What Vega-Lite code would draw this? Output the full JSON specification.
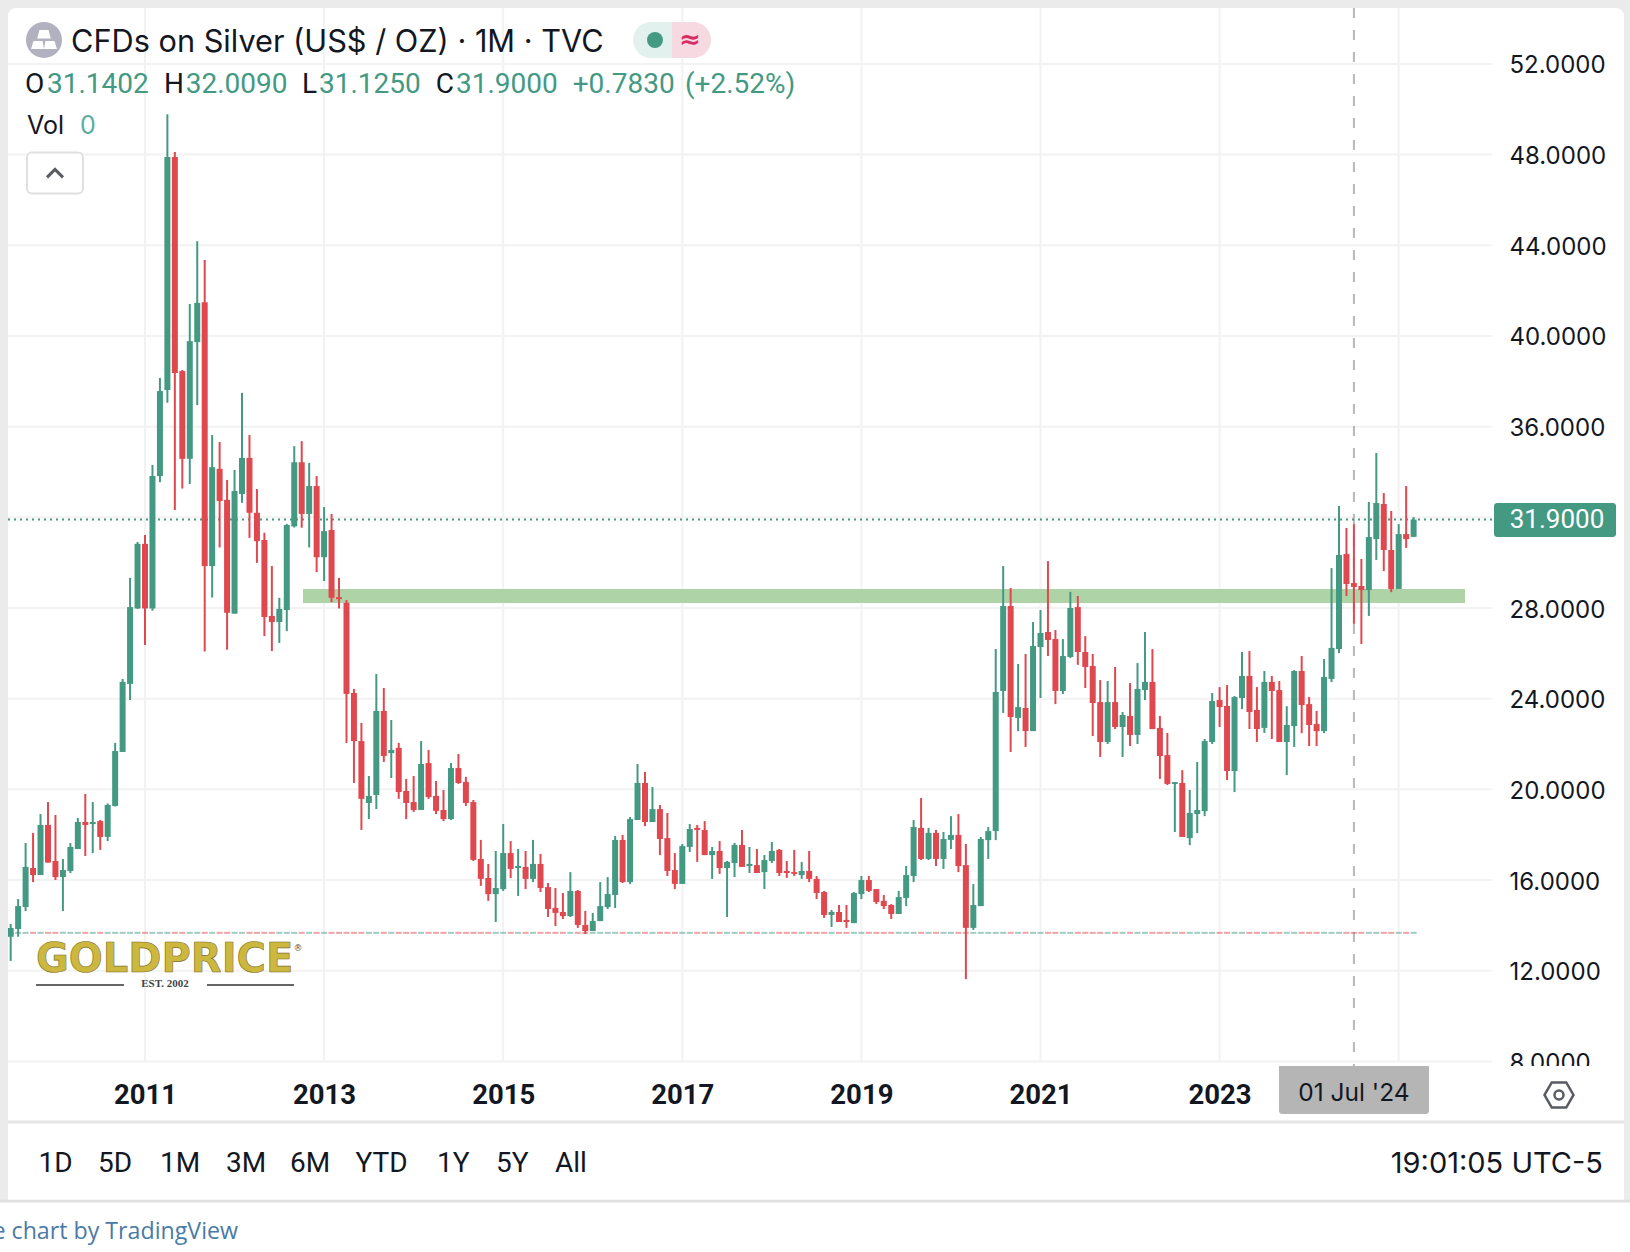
{"$schema":"https://vega.github.io/schema/vega-lite/v6.json","width":1630,"height":1252,"padding":0,"autosize":{"type":"fit","contains":"padding"},"background":"#ffffff","view":{"stroke":null},
"config":{"text":{"font":"Inter","baseline":"middle","align":"left"}},
"datasets":{"candles":[
{"date":"2009-07","t":2009.5,"open":13.5,"high":14.06,"low":12.43,"close":13.88,"dir":"up"},
{"date":"2009-08","t":2009.5833,"open":13.84,"high":15.16,"low":13.5,"close":14.85,"dir":"up"},
{"date":"2009-09","t":2009.6667,"open":14.81,"high":17.63,"low":14.63,"close":16.58,"dir":"up"},
{"date":"2009-10","t":2009.75,"open":16.53,"high":18.08,"low":15.91,"close":16.22,"dir":"down"},
{"date":"2009-11","t":2009.8333,"open":16.22,"high":18.91,"low":16.22,"close":18.43,"dir":"up"},
{"date":"2009-12","t":2009.9167,"open":18.43,"high":19.44,"low":16.77,"close":16.77,"dir":"down"},
{"date":"2010-01","t":2010,"open":16.84,"high":18.87,"low":16.0,"close":16.13,"dir":"down"},
{"date":"2010-02","t":2010.0833,"open":16.13,"high":16.93,"low":14.63,"close":16.44,"dir":"up"},
{"date":"2010-03","t":2010.1667,"open":16.4,"high":17.63,"low":16.31,"close":17.46,"dir":"up"},
{"date":"2010-04","t":2010.25,"open":17.37,"high":18.74,"low":17.37,"close":18.56,"dir":"up"},
{"date":"2010-05","t":2010.3333,"open":18.56,"high":19.8,"low":17.06,"close":18.43,"dir":"down"},
{"date":"2010-06","t":2010.4167,"open":18.47,"high":19.44,"low":17.19,"close":18.56,"dir":"up"},
{"date":"2010-07","t":2010.5,"open":18.6,"high":18.65,"low":17.33,"close":17.9,"dir":"down"},
{"date":"2010-08","t":2010.5833,"open":17.9,"high":19.38,"low":17.72,"close":19.31,"dir":"up"},
{"date":"2010-09","t":2010.6667,"open":19.27,"high":22.05,"low":19.24,"close":21.69,"dir":"up"},
{"date":"2010-10","t":2010.75,"open":21.65,"high":24.87,"low":21.65,"close":24.74,"dir":"up"},
{"date":"2010-11","t":2010.8333,"open":24.65,"high":29.33,"low":23.94,"close":28.04,"dir":"up"},
{"date":"2010-12","t":2010.9167,"open":27.98,"high":30.91,"low":27.96,"close":30.83,"dir":"up"},
{"date":"2011-01","t":2011,"open":30.83,"high":31.22,"low":26.37,"close":27.98,"dir":"down"},
{"date":"2011-02","t":2011.0833,"open":27.98,"high":34.31,"low":27.88,"close":33.82,"dir":"up"},
{"date":"2011-03","t":2011.1667,"open":33.82,"high":38.15,"low":33.55,"close":37.57,"dir":"up"},
{"date":"2011-04","t":2011.25,"open":37.62,"high":49.78,"low":37.05,"close":47.89,"dir":"up"},
{"date":"2011-05","t":2011.3333,"open":47.89,"high":48.11,"low":32.32,"close":38.37,"dir":"down"},
{"date":"2011-06","t":2011.4167,"open":38.45,"high":38.5,"low":33.27,"close":34.58,"dir":"down"},
{"date":"2011-07","t":2011.5,"open":34.58,"high":41.41,"low":33.47,"close":39.77,"dir":"up"},
{"date":"2011-08","t":2011.5833,"open":39.73,"high":44.18,"low":36.95,"close":41.46,"dir":"up"},
{"date":"2011-09","t":2011.6667,"open":41.49,"high":43.35,"low":26.08,"close":29.85,"dir":"down"},
{"date":"2011-10","t":2011.75,"open":29.85,"high":35.63,"low":28.46,"close":34.21,"dir":"up"},
{"date":"2011-11","t":2011.8333,"open":34.14,"high":35.32,"low":30.67,"close":32.72,"dir":"down"},
{"date":"2011-12","t":2011.9167,"open":32.77,"high":33.65,"low":26.16,"close":27.79,"dir":"down"},
{"date":"2012-01","t":2012,"open":27.75,"high":34.09,"low":27.75,"close":33.16,"dir":"up"},
{"date":"2012-02","t":2012.0833,"open":33.03,"high":37.49,"low":32.64,"close":34.62,"dir":"up"},
{"date":"2012-03","t":2012.1667,"open":34.62,"high":35.63,"low":31.09,"close":32.2,"dir":"down"},
{"date":"2012-04","t":2012.25,"open":32.2,"high":33.25,"low":29.99,"close":30.95,"dir":"down"},
{"date":"2012-05","t":2012.3333,"open":31.0,"high":31.32,"low":26.76,"close":27.6,"dir":"down"},
{"date":"2012-06","t":2012.4167,"open":27.65,"high":29.85,"low":26.1,"close":27.38,"dir":"down"},
{"date":"2012-07","t":2012.5,"open":27.38,"high":28.45,"low":26.46,"close":27.96,"dir":"up"},
{"date":"2012-08","t":2012.5833,"open":27.91,"high":31.71,"low":26.98,"close":31.66,"dir":"up"},
{"date":"2012-09","t":2012.6667,"open":31.6,"high":35.14,"low":31.55,"close":34.43,"dir":"up"},
{"date":"2012-10","t":2012.75,"open":34.43,"high":35.36,"low":31.54,"close":32.15,"dir":"down"},
{"date":"2012-11","t":2012.8333,"open":32.15,"high":34.4,"low":30.67,"close":33.38,"dir":"up"},
{"date":"2012-12","t":2012.9167,"open":33.38,"high":33.82,"low":29.58,"close":30.24,"dir":"down"},
{"date":"2013-01","t":2013,"open":30.24,"high":32.45,"low":29.19,"close":31.39,"dir":"up"},
{"date":"2013-02","t":2013.0833,"open":31.44,"high":32.15,"low":28.26,"close":28.45,"dir":"down"},
{"date":"2013-03","t":2013.1667,"open":28.48,"high":29.33,"low":27.98,"close":28.39,"dir":"down"},
{"date":"2013-04","t":2013.25,"open":28.23,"high":28.35,"low":22.05,"close":24.21,"dir":"down"},
{"date":"2013-05","t":2013.3333,"open":24.25,"high":24.43,"low":20.28,"close":22.13,"dir":"down"},
{"date":"2013-06","t":2013.4167,"open":22.13,"high":22.93,"low":18.21,"close":19.58,"dir":"down"},
{"date":"2013-07","t":2013.5,"open":19.4,"high":20.59,"low":18.69,"close":19.71,"dir":"up"},
{"date":"2013-08","t":2013.5833,"open":19.75,"high":25.09,"low":19.13,"close":23.46,"dir":"up"},
{"date":"2013-09","t":2013.6667,"open":23.46,"high":24.47,"low":21.21,"close":21.47,"dir":"down"},
{"date":"2013-10","t":2013.75,"open":21.6,"high":23.06,"low":20.5,"close":21.74,"dir":"up"},
{"date":"2013-11","t":2013.8333,"open":21.83,"high":22.05,"low":19.58,"close":19.88,"dir":"down"},
{"date":"2013-12","t":2013.9167,"open":19.93,"high":20.46,"low":18.69,"close":19.4,"dir":"down"},
{"date":"2014-01","t":2014,"open":19.44,"high":20.59,"low":19.0,"close":19.09,"dir":"down"},
{"date":"2014-02","t":2014.0833,"open":19.09,"high":22.13,"low":19.09,"close":21.12,"dir":"up"},
{"date":"2014-03","t":2014.1667,"open":21.16,"high":21.74,"low":19.58,"close":19.66,"dir":"down"},
{"date":"2014-04","t":2014.25,"open":19.71,"high":20.37,"low":18.91,"close":19.05,"dir":"down"},
{"date":"2014-05","t":2014.3333,"open":19.09,"high":19.97,"low":18.6,"close":18.69,"dir":"down"},
{"date":"2014-06","t":2014.4167,"open":18.69,"high":21.16,"low":18.65,"close":20.94,"dir":"up"},
{"date":"2014-07","t":2014.5,"open":20.94,"high":21.56,"low":20.24,"close":20.28,"dir":"down"},
{"date":"2014-08","t":2014.5833,"open":20.33,"high":20.55,"low":19.27,"close":19.4,"dir":"down"},
{"date":"2014-09","t":2014.6667,"open":19.44,"high":19.53,"low":16.84,"close":16.89,"dir":"down"},
{"date":"2014-10","t":2014.75,"open":16.93,"high":17.77,"low":15.74,"close":16.05,"dir":"down"},
{"date":"2014-11","t":2014.8333,"open":16.09,"high":16.71,"low":15.08,"close":15.38,"dir":"down"},
{"date":"2014-12","t":2014.9167,"open":15.38,"high":17.28,"low":14.15,"close":15.65,"dir":"up"},
{"date":"2015-01","t":2015,"open":15.6,"high":18.47,"low":15.52,"close":17.19,"dir":"up"},
{"date":"2015-02","t":2015.0833,"open":17.19,"high":17.72,"low":16.09,"close":16.49,"dir":"down"},
{"date":"2015-03","t":2015.1667,"open":16.53,"high":17.37,"low":15.3,"close":16.62,"dir":"up"},
{"date":"2015-04","t":2015.25,"open":16.58,"high":17.28,"low":15.6,"close":16.05,"dir":"down"},
{"date":"2015-05","t":2015.3333,"open":16.05,"high":17.77,"low":15.91,"close":16.71,"dir":"up"},
{"date":"2015-06","t":2015.4167,"open":16.71,"high":17.15,"low":15.47,"close":15.65,"dir":"down"},
{"date":"2015-07","t":2015.5,"open":15.69,"high":15.87,"low":14.37,"close":14.72,"dir":"down"},
{"date":"2015-08","t":2015.5833,"open":14.77,"high":15.65,"low":13.97,"close":14.55,"dir":"down"},
{"date":"2015-09","t":2015.6667,"open":14.59,"high":15.43,"low":14.28,"close":14.41,"dir":"down"},
{"date":"2015-10","t":2015.75,"open":14.41,"high":16.35,"low":14.37,"close":15.52,"dir":"up"},
{"date":"2015-11","t":2015.8333,"open":15.52,"high":15.56,"low":13.89,"close":14.02,"dir":"down"},
{"date":"2015-12","t":2015.9167,"open":14.02,"high":14.64,"low":13.62,"close":13.75,"dir":"down"},
{"date":"2016-01","t":2016,"open":13.75,"high":14.55,"low":13.75,"close":14.19,"dir":"up"},
{"date":"2016-02","t":2016.0833,"open":14.19,"high":15.91,"low":14.19,"close":14.85,"dir":"up"},
{"date":"2016-03","t":2016.1667,"open":14.81,"high":16.13,"low":14.72,"close":15.38,"dir":"up"},
{"date":"2016-04","t":2016.25,"open":15.34,"high":17.94,"low":14.77,"close":17.77,"dir":"up"},
{"date":"2016-05","t":2016.3333,"open":17.77,"high":17.99,"low":15.87,"close":15.91,"dir":"down"},
{"date":"2016-06","t":2016.4167,"open":15.91,"high":18.78,"low":15.82,"close":18.69,"dir":"up"},
{"date":"2016-07","t":2016.5,"open":18.65,"high":21.12,"low":18.65,"close":20.28,"dir":"up"},
{"date":"2016-08","t":2016.5833,"open":20.28,"high":20.77,"low":18.38,"close":18.56,"dir":"down"},
{"date":"2016-09","t":2016.6667,"open":18.56,"high":20.1,"low":18.56,"close":19.13,"dir":"up"},
{"date":"2016-10","t":2016.75,"open":19.13,"high":19.31,"low":17.1,"close":17.81,"dir":"down"},
{"date":"2016-11","t":2016.8333,"open":17.85,"high":18.96,"low":16.18,"close":16.4,"dir":"down"},
{"date":"2016-12","t":2016.9167,"open":16.44,"high":17.19,"low":15.6,"close":15.83,"dir":"down"},
{"date":"2017-01","t":2017,"open":15.83,"high":17.59,"low":15.83,"close":17.5,"dir":"up"},
{"date":"2017-02","t":2017.0833,"open":17.46,"high":18.47,"low":17.24,"close":18.25,"dir":"up"},
{"date":"2017-03","t":2017.1667,"open":18.3,"high":18.43,"low":16.8,"close":18.21,"dir":"down"},
{"date":"2017-04","t":2017.25,"open":18.21,"high":18.6,"low":17.1,"close":17.1,"dir":"down"},
{"date":"2017-05","t":2017.3333,"open":17.1,"high":17.46,"low":16.05,"close":17.28,"dir":"up"},
{"date":"2017-06","t":2017.4167,"open":17.28,"high":17.72,"low":16.27,"close":16.53,"dir":"down"},
{"date":"2017-07","t":2017.5,"open":16.53,"high":16.84,"low":14.37,"close":16.8,"dir":"up"},
{"date":"2017-08","t":2017.5833,"open":16.75,"high":17.64,"low":16.13,"close":17.55,"dir":"up"},
{"date":"2017-09","t":2017.6667,"open":17.55,"high":18.21,"low":16.58,"close":16.58,"dir":"down"},
{"date":"2017-10","t":2017.75,"open":16.62,"high":17.46,"low":16.31,"close":16.71,"dir":"up"},
{"date":"2017-11","t":2017.8333,"open":16.66,"high":17.37,"low":16.31,"close":16.31,"dir":"down"},
{"date":"2017-12","t":2017.9167,"open":16.35,"high":17.1,"low":15.6,"close":16.88,"dir":"up"},
{"date":"2018-01","t":2018,"open":16.84,"high":17.68,"low":16.75,"close":17.28,"dir":"up"},
{"date":"2018-02","t":2018.0833,"open":17.33,"high":17.37,"low":16.18,"close":16.31,"dir":"down"},
{"date":"2018-03","t":2018.1667,"open":16.4,"high":16.84,"low":16.09,"close":16.31,"dir":"down"},
{"date":"2018-04","t":2018.25,"open":16.35,"high":17.33,"low":16.18,"close":16.27,"dir":"down"},
{"date":"2018-05","t":2018.3333,"open":16.22,"high":16.8,"low":16.05,"close":16.4,"dir":"up"},
{"date":"2018-06","t":2018.4167,"open":16.4,"high":17.28,"low":15.91,"close":16.05,"dir":"down"},
{"date":"2018-07","t":2018.5,"open":16.05,"high":16.18,"low":15.16,"close":15.43,"dir":"down"},
{"date":"2018-08","t":2018.5833,"open":15.47,"high":15.52,"low":14.33,"close":14.46,"dir":"down"},
{"date":"2018-09","t":2018.6667,"open":14.46,"high":14.68,"low":13.93,"close":14.59,"dir":"up"},
{"date":"2018-10","t":2018.75,"open":14.59,"high":14.9,"low":14.15,"close":14.15,"dir":"down"},
{"date":"2018-11","t":2018.8333,"open":14.24,"high":14.9,"low":13.89,"close":14.15,"dir":"down"},
{"date":"2018-12","t":2018.9167,"open":14.1,"high":15.47,"low":14.1,"close":15.43,"dir":"up"},
{"date":"2019-01","t":2019,"open":15.38,"high":16.18,"low":15.16,"close":16.0,"dir":"up"},
{"date":"2019-02","t":2019.0833,"open":16.0,"high":16.18,"low":15.47,"close":15.52,"dir":"down"},
{"date":"2019-03","t":2019.1667,"open":15.6,"high":15.6,"low":14.94,"close":15.03,"dir":"down"},
{"date":"2019-04","t":2019.25,"open":15.08,"high":15.34,"low":14.72,"close":14.85,"dir":"down"},
{"date":"2019-05","t":2019.3333,"open":14.9,"high":14.94,"low":14.28,"close":14.5,"dir":"down"},
{"date":"2019-06","t":2019.4167,"open":14.5,"high":15.52,"low":14.5,"close":15.25,"dir":"up"},
{"date":"2019-07","t":2019.5,"open":15.21,"high":16.62,"low":14.85,"close":16.22,"dir":"up"},
{"date":"2019-08","t":2019.5833,"open":16.18,"high":18.65,"low":15.91,"close":18.34,"dir":"up"},
{"date":"2019-09","t":2019.6667,"open":18.3,"high":19.62,"low":16.88,"close":16.93,"dir":"down"},
{"date":"2019-10","t":2019.75,"open":16.93,"high":18.3,"low":16.88,"close":18.08,"dir":"up"},
{"date":"2019-11","t":2019.8333,"open":18.08,"high":18.21,"low":16.62,"close":16.93,"dir":"down"},
{"date":"2019-12","t":2019.9167,"open":16.93,"high":18.12,"low":16.49,"close":17.81,"dir":"up"},
{"date":"2020-01","t":2020,"open":17.77,"high":18.82,"low":17.37,"close":17.99,"dir":"up"},
{"date":"2020-02","t":2020.0833,"open":17.99,"high":18.91,"low":16.35,"close":16.62,"dir":"down"},
{"date":"2020-03","t":2020.1667,"open":16.66,"high":17.59,"low":11.63,"close":13.89,"dir":"down"},
{"date":"2020-04","t":2020.25,"open":13.89,"high":15.82,"low":13.8,"close":14.9,"dir":"up"},
{"date":"2020-05","t":2020.3333,"open":14.85,"high":17.9,"low":14.85,"close":17.81,"dir":"up"},
{"date":"2020-06","t":2020.4167,"open":17.76,"high":18.34,"low":16.93,"close":18.16,"dir":"up"},
{"date":"2020-07","t":2020.5,"open":18.16,"high":26.19,"low":17.76,"close":24.29,"dir":"up"},
{"date":"2020-08","t":2020.5833,"open":24.34,"high":29.85,"low":23.37,"close":28.09,"dir":"up"},
{"date":"2020-09","t":2020.6667,"open":28.09,"high":28.88,"low":21.65,"close":23.19,"dir":"down"},
{"date":"2020-10","t":2020.75,"open":23.15,"high":25.53,"low":22.57,"close":23.63,"dir":"up"},
{"date":"2020-11","t":2020.8333,"open":23.59,"high":25.97,"low":21.87,"close":22.57,"dir":"down"},
{"date":"2020-12","t":2020.9167,"open":22.57,"high":27.38,"low":22.57,"close":26.32,"dir":"up"},
{"date":"2021-01","t":2021,"open":26.28,"high":27.91,"low":24.03,"close":26.9,"dir":"up"},
{"date":"2021-02","t":2021.0833,"open":26.94,"high":30.07,"low":25.88,"close":26.59,"dir":"down"},
{"date":"2021-03","t":2021.1667,"open":26.63,"high":27.03,"low":23.76,"close":24.34,"dir":"down"},
{"date":"2021-04","t":2021.25,"open":24.34,"high":26.63,"low":24.21,"close":25.88,"dir":"up"},
{"date":"2021-05","t":2021.3333,"open":25.84,"high":28.71,"low":25.79,"close":28.0,"dir":"up"},
{"date":"2021-06","t":2021.4167,"open":28.04,"high":28.53,"low":25.49,"close":26.06,"dir":"down"},
{"date":"2021-07","t":2021.5,"open":26.06,"high":26.76,"low":24.47,"close":25.4,"dir":"down"},
{"date":"2021-08","t":2021.5833,"open":25.44,"high":25.97,"low":22.35,"close":23.81,"dir":"down"},
{"date":"2021-09","t":2021.6667,"open":23.85,"high":24.82,"low":21.43,"close":22.09,"dir":"down"},
{"date":"2021-10","t":2021.75,"open":22.09,"high":24.78,"low":22.0,"close":23.85,"dir":"up"},
{"date":"2021-11","t":2021.8333,"open":23.85,"high":25.4,"low":22.66,"close":22.75,"dir":"down"},
{"date":"2021-12","t":2021.9167,"open":22.75,"high":23.41,"low":21.43,"close":23.28,"dir":"up"},
{"date":"2022-01","t":2022,"open":23.24,"high":24.69,"low":21.91,"close":22.4,"dir":"down"},
{"date":"2022-02","t":2022.0833,"open":22.4,"high":25.57,"low":22.0,"close":24.43,"dir":"up"},
{"date":"2022-03","t":2022.1667,"open":24.38,"high":26.94,"low":23.94,"close":24.74,"dir":"up"},
{"date":"2022-04","t":2022.25,"open":24.74,"high":26.19,"low":22.66,"close":22.66,"dir":"down"},
{"date":"2022-05","t":2022.3333,"open":22.71,"high":23.24,"low":20.46,"close":21.47,"dir":"down"},
{"date":"2022-06","t":2022.4167,"open":21.51,"high":22.49,"low":20.19,"close":20.24,"dir":"down"},
{"date":"2022-07","t":2022.5,"open":20.24,"high":20.32,"low":18.12,"close":20.32,"dir":"up"},
{"date":"2022-08","t":2022.5833,"open":20.28,"high":20.85,"low":17.9,"close":17.9,"dir":"down"},
{"date":"2022-09","t":2022.6667,"open":17.85,"high":19.97,"low":17.54,"close":18.96,"dir":"up"},
{"date":"2022-10","t":2022.75,"open":18.91,"high":21.21,"low":18.07,"close":19.09,"dir":"up"},
{"date":"2022-11","t":2022.8333,"open":19.04,"high":22.22,"low":18.82,"close":22.13,"dir":"up"},
{"date":"2022-12","t":2022.9167,"open":22.09,"high":24.25,"low":22.0,"close":23.9,"dir":"up"},
{"date":"2023-01","t":2023,"open":23.94,"high":24.51,"low":22.75,"close":23.63,"dir":"down"},
{"date":"2023-02","t":2023.0833,"open":23.68,"high":24.6,"low":20.41,"close":20.81,"dir":"down"},
{"date":"2023-03","t":2023.1667,"open":20.81,"high":24.12,"low":19.88,"close":24.07,"dir":"up"},
{"date":"2023-04","t":2023.25,"open":24.03,"high":26.06,"low":23.54,"close":25.0,"dir":"up"},
{"date":"2023-05","t":2023.3333,"open":25.0,"high":26.1,"low":22.66,"close":23.41,"dir":"down"},
{"date":"2023-06","t":2023.4167,"open":23.5,"high":24.51,"low":22.09,"close":22.66,"dir":"down"},
{"date":"2023-07","t":2023.5,"open":22.71,"high":25.22,"low":22.49,"close":24.74,"dir":"up"},
{"date":"2023-08","t":2023.5833,"open":24.74,"high":25.0,"low":22.22,"close":24.34,"dir":"down"},
{"date":"2023-09","t":2023.6667,"open":24.38,"high":24.78,"low":22.09,"close":22.09,"dir":"down"},
{"date":"2023-10","t":2023.75,"open":22.09,"high":23.67,"low":20.63,"close":22.84,"dir":"up"},
{"date":"2023-11","t":2023.8333,"open":22.79,"high":25.26,"low":21.87,"close":25.22,"dir":"up"},
{"date":"2023-12","t":2023.9167,"open":25.22,"high":25.88,"low":22.48,"close":23.72,"dir":"down"},
{"date":"2024-01","t":2024,"open":23.76,"high":24.07,"low":21.91,"close":22.84,"dir":"down"},
{"date":"2024-02","t":2024.0833,"open":22.88,"high":23.46,"low":21.91,"close":22.57,"dir":"down"},
{"date":"2024-03","t":2024.1667,"open":22.57,"high":25.75,"low":22.48,"close":24.96,"dir":"up"},
{"date":"2024-04","t":2024.25,"open":24.87,"high":29.76,"low":24.73,"close":26.24,"dir":"up"},
{"date":"2024-05","t":2024.3333,"open":26.19,"high":32.5,"low":26.01,"close":30.34,"dir":"up"},
{"date":"2024-06","t":2024.4167,"open":30.38,"high":31.53,"low":28.53,"close":29.06,"dir":"down"},
{"date":"2024-07","t":2024.5,"open":29.1,"high":31.7,"low":27.3,"close":28.93,"dir":"down"},
{"date":"2024-08","t":2024.5833,"open":28.97,"high":30.16,"low":26.41,"close":28.79,"dir":"down"},
{"date":"2024-09","t":2024.6667,"open":28.79,"high":32.68,"low":27.65,"close":31.13,"dir":"up"},
{"date":"2024-10","t":2024.75,"open":31.04,"high":34.84,"low":30.12,"close":32.63,"dir":"up"},
{"date":"2024-11","t":2024.8333,"open":32.59,"high":33.07,"low":29.63,"close":30.56,"dir":"down"},
{"date":"2024-12","t":2024.9167,"open":30.56,"high":32.28,"low":28.7,"close":28.84,"dir":"down"},
{"date":"2025-01","t":2025,"open":28.84,"high":31.7,"low":28.84,"close":31.26,"dir":"up"},
{"date":"2025-02","t":2025.0833,"open":31.26,"high":33.38,"low":30.65,"close":31.04,"dir":"down"},
{"date":"2025-03","t":2025.1667,"open":31.14,"high":32.01,"low":31.125,"close":31.9,"dir":"up"}
]},
"layer":[
{"data":{"values":[{"v":8},{"v":12},{"v":16},{"v":20},{"v":24},{"v":28},{"v":32},{"v":36},{"v":40},{"v":44},{"v":48},{"v":52}]},
 "mark":{"type":"rule","color":"#f2f2f3","strokeWidth":2},
 "encoding":{"y":{"field":"v","type":"quantitative","scale":{"domain":[-0.408,54.82],"nice":false,"zero":false},"title":null,"axis":{"orient":"right","offset":-121,"values":[8,12,16,20,24,28,32,36,40,44,48,52],"format":".4f","domain":false,"ticks":false,"grid":false,"labelPadding":0,"labelAlign":"left","labelBaseline":"middle","labelOffset":2,"labelFont":"Inter","labelFontSize":24,"labelColor":"#131722","labelOverlap":false,"labelBound":false,"labelFlush":false,"title":null,"zindex":0}},
 "x":{"datum":2009.4701,"type":"quantitative","scale":{"domain":[2009.3808,2027.583],"nice":false,"zero":false,"padding":0},"title":null,"axis":{"orient":"bottom","offset":-157,"values":[2011,2013,2015,2017,2019,2021,2023],"format":"d","domain":false,"ticks":false,"grid":false,"labelPadding":0,"labelAlign":"center","labelBaseline":"middle","labelFont":"Roboto","labelFontSize":27.5,"labelFontWeight":"bold","labelColor":"#131722","labelOverlap":false,"labelBound":false,"labelFlush":false,"title":null,"zindex":0}},
 "x2":{"datum":2026.0419}}},
{"data":{"values":[{"t":2011},{"t":2013},{"t":2015},{"t":2017},{"t":2019},{"t":2021},{"t":2023},{"t":2025}]},
 "mark":{"type":"rule","color":"#f2f2f3","strokeWidth":2},
 "encoding":{"x":{"field":"t","type":"quantitative"},"y":{"datum":7.974},"y2":{"datum":54.467}}},
{"data":{"values":[{"t":2012.7644,"t2":2025.7404,"v":28.84,"v2":28.22}]},"mark":{"type":"rect","color":"#aed3a6"},
 "encoding":{"x":{"field":"t","type":"quantitative"},"x2":{"field":"t2"},"y":{"field":"v","type":"quantitative"},"y2":{"field":"v2"}}},
{"data":{"values":[{"t":2024.5,"v":54.467,"v2":7.797}]},"mark":{"type":"rule","color":"#b8b8b8","strokeWidth":2,"strokeDash":[10,12]},
 "encoding":{"x":{"field":"t","type":"quantitative"},"y":{"field":"v","type":"quantitative"},"y2":{"field":"v2"}}},
{"data":{"values":[{"v":31.9}]},"mark":{"type":"rule","color":"#449983","strokeWidth":2,"strokeDash":[2,4]},
 "encoding":{"y":{"field":"v","type":"quantitative"},"x":{"datum":2009.4701},"x2":{"datum":2026.0419}}},
{"data":{"name":"candles"},"mark":{"type":"bar","orient":"vertical","width":6,"opacity":0.5},
 "encoding":{"x":{"field":"t","type":"quantitative"},"y":{"datum":13.714},"y2":{"datum":13.626},"color":{"field":"dir","type":"nominal","legend":null,"scale":{"domain":["up","down"],"range":["#449983","#e0484f"]}}}},
{"data":{"name":"candles"},"mark":{"type":"rule","strokeWidth":2},
 "encoding":{"x":{"field":"t","type":"quantitative"},"y":{"field":"low","type":"quantitative"},"y2":{"field":"high"},"color":{"field":"dir","type":"nominal","legend":null}}},
{"data":{"name":"candles"},"mark":{"type":"bar","orient":"vertical","width":6},
 "encoding":{"x":{"field":"t","type":"quantitative"},"y":{"field":"open","type":"quantitative"},"y2":{"field":"close"},"color":{"field":"dir","type":"nominal","legend":null}}},
{"data":{"values":[{"t":2026.0642,"t2":2027.4266,"v":32.632,"v2":31.132}]},"mark":{"type":"rect","color":"#449983","cornerRadius":3},
 "encoding":{"x":{"field":"t","type":"quantitative"},"x2":{"field":"t2"},"y":{"field":"v","type":"quantitative"},"y2":{"field":"v2"}}},
{"data":{"values":[{"label":"31.9000","t":2026.7677,"v":31.882}]},"mark":{"type":"text","font":"Roboto","fontSize":26,"align":"center","color":"#ffffff"},
 "encoding":{"x":{"field":"t","type":"quantitative"},"y":{"field":"v","type":"quantitative"},"text":{"field":"label"}}},
{"data":{"values":[{"t":2026.0642,"t2":2027.4266,"v":7.797,"v2":5.4}]},"mark":{"type":"rect","color":"#ffffff"},
 "encoding":{"x":{"field":"t","type":"quantitative"},"x2":{"field":"t2"},"y":{"field":"v","type":"quantitative"},"y2":{"field":"v2"}}},
{"data":{"values":[{"t":2023.6633,"t2":2025.3384,"v":7.797,"v2":5.68}]},"mark":{"type":"rect","color":"#b5b5b5","cornerRadiusBottomLeft":3,"cornerRadiusBottomRight":3},
 "encoding":{"x":{"field":"t","type":"quantitative"},"x2":{"field":"t2"},"y":{"field":"v","type":"quantitative"},"y2":{"field":"v2"}}},
{"data":{"values":[{"label":"01 Jul '24","t":2024.5,"v":6.563}]},"mark":{"type":"text","font":"Inter","fontSize":24.5,"align":"center","color":"#131722"},
 "encoding":{"x":{"field":"t","type":"quantitative"},"y":{"field":"v","type":"quantitative"},"text":{"field":"label"}}},
{"data":{"values":[{"t":2009.4701,"t2":2027.5159,"v":5.327}]},"mark":{"type":"rule","color":"#e6e6e6","strokeWidth":3},
 "encoding":{"x":{"field":"t","type":"quantitative"},"x2":{"field":"t2"},"y":{"field":"v","type":"quantitative"}}},
{"data":{"values":[{"t":2009.3808,"t2":2027.583,"v":54.82,"v2":54.467},{"t":2009.3808,"t2":2009.4701,"v":54.82,"v2":1.843},{"t":2027.5159,"t2":2027.583,"v":54.82,"v2":1.843}]},"mark":{"type":"rect","color":"#ebebeb"},
 "encoding":{"x":{"field":"t","type":"quantitative"},"x2":{"field":"t2"},"y":{"field":"v","type":"quantitative"},"y2":{"field":"v2"}}},
{"data":{"values":[{"t":2009.5148,"v":54.291}]},"mark":{"type":"point","shape":"M-1,-1L1,-1A2,2 0 0 0 -1,1Z","size":64,"filled":true,"color":"#ebebeb","opacity":1},
 "encoding":{"x":{"field":"t","type":"quantitative"},"y":{"field":"v","type":"quantitative"}}},
{"data":{"values":[{"t":2027.4713,"v":54.291}]},"mark":{"type":"point","shape":"M1,-1L-1,-1A2,2 0 0 1 1,1Z","size":64,"filled":true,"color":"#ebebeb","opacity":1},
 "encoding":{"x":{"field":"t","type":"quantitative"},"y":{"field":"v","type":"quantitative"}}},
{"data":{"values":[{"t":2009.3808,"t2":2027.583,"v":1.90,"v2":1.78}]},"mark":{"type":"rect","color":"#e0e0e0"},
 "encoding":{"x":{"field":"t","type":"quantitative"},"x2":{"field":"t2"},"y":{"field":"v","type":"quantitative"},"y2":{"field":"v2"}}},
{"data":{"values":[{"label":"CFDs on Silver (US$ / OZ) · 1M · TVC","t":2010.1737,"v":52.926}]},"mark":{"type":"text","font":"Inter","fontSize":30.7,"color":"#131722"},
 "encoding":{"x":{"field":"t","type":"quantitative"},"y":{"field":"v","type":"quantitative"},"text":{"field":"label"}}},
{"data":{"values":[{"label":"O","t":2009.66,"v":51.07},{"label":"H","t":2011.212,"v":51.07},{"label":"L","t":2012.753,"v":51.07},{"label":"C","t":2014.246,"v":51.07}]},"mark":{"type":"text","font":"Roboto","fontSize":28,"color":"#131722"},
 "encoding":{"x":{"field":"t","type":"quantitative"},"y":{"field":"v","type":"quantitative"},"text":{"field":"label"}}},
{"data":{"values":[{"label":"Vol","t":2009.6823,"v":49.26}]},"mark":{"type":"text","font":"Inter","fontSize":25,"color":"#131722"},
 "encoding":{"x":{"field":"t","type":"quantitative"},"y":{"field":"v","type":"quantitative"},"text":{"field":"label"}}},
{"data":{"values":[{"label":"31.1402","t":2009.9057,"v":51.07},{"label":"32.0090","t":2011.4545,"v":51.07},{"label":"31.1250","t":2012.943,"v":51.07},{"label":"31.9000","t":2014.473,"v":51.07},{"label":"+0.7830","t":2015.776,"v":51.07},{"label":"(+2.52%)","t":2017.0301,"v":51.07}]},"mark":{"type":"text","font":"Roboto","fontSize":28,"color":"#449983"},
 "encoding":{"x":{"field":"t","type":"quantitative"},"y":{"field":"v","type":"quantitative"},"text":{"field":"label"}}},
{"data":{"values":[{"label":"0","t":2010.2741,"v":49.26}]},"mark":{"type":"text","font":"Inter","fontSize":25,"color":"#5aada0"},
 "encoding":{"x":{"field":"t","type":"quantitative"},"y":{"field":"v","type":"quantitative"},"text":{"field":"label"}}},
{"data":{"values":[{"t":2009.6823,"t2":2010.3077,"v":48.093,"v2":46.28}]},"mark":{"type":"rect","fill":"#ffffff","stroke":"#e0e0e0","strokeWidth":2,"cornerRadius":5},
 "encoding":{"x":{"field":"t","type":"quantitative"},"x2":{"field":"t2"},"y":{"field":"v","type":"quantitative"},"y2":{"field":"v2"}}},
{"data":{"values":[{"t":2009.995,"v":47.189}]},"mark":{"type":"point","shape":"M-1,0.55L0,-0.45L1,0.55","size":256,"filled":false,"stroke":"#131722","strokeWidth":3},
 "encoding":{"x":{"field":"t","type":"quantitative"},"y":{"field":"v","type":"quantitative"}}},
{"data":{"values":[{"t":2009.8721,"v":53.056}]},"mark":{"type":"point","shape":"circle","size":1296,"filled":true,"color":"#b2b1c0","opacity":1},
 "encoding":{"x":{"field":"t","type":"quantitative"},"y":{"field":"v","type":"quantitative"}}},
{"data":{"values":[{"t":2009.8721,"v":53.056}]},"mark":{"type":"point","shape":"M-0.25,-0.55L0.25,-0.55L0.38,-0.08L-0.38,-0.08ZM-0.58,0.05L-0.08,0.05L0,0.5L-0.72,0.5ZM0.08,0.05L0.58,0.05L0.72,0.5L0,0.5Z","size":1296,"filled":true,"color":"#ffffff","opacity":1},
 "encoding":{"x":{"field":"t","type":"quantitative"},"y":{"field":"v","type":"quantitative"}}},
{"data":{"values":[{"t":2016.4495,"t2":2016.885,"v":53.85,"v2":52.262}]},"mark":{"type":"rect","color":"#e3f1ee","cornerRadiusTopLeft":18,"cornerRadiusBottomLeft":18},
 "encoding":{"x":{"field":"t","type":"quantitative"},"x2":{"field":"t2"},"y":{"field":"v","type":"quantitative"},"y2":{"field":"v2"}}},
{"data":{"values":[{"t":2016.885,"t2":2017.3205,"v":53.85,"v2":52.262}]},"mark":{"type":"rect","color":"#f7d9e2","cornerRadiusTopRight":18,"cornerRadiusBottomRight":18},
 "encoding":{"x":{"field":"t","type":"quantitative"},"x2":{"field":"t2"},"y":{"field":"v","type":"quantitative"},"y2":{"field":"v2"}}},
{"data":{"values":[{"t":2016.6951,"v":53.056}]},"mark":{"type":"point","shape":"circle","size":256,"filled":true,"color":"#449983","opacity":1},
 "encoding":{"x":{"field":"t","type":"quantitative"},"y":{"field":"v","type":"quantitative"}}},
{"data":{"values":[{"label":"≈","t":2017.086,"v":53.056}]},"mark":{"type":"text","font":"DejaVu Sans","fontSize":26,"fontWeight":"bold","align":"center","color":"#d62e66"},
 "encoding":{"x":{"field":"t","type":"quantitative"},"y":{"field":"v","type":"quantitative"},"text":{"field":"label"}}},
{"data":{"values":[{"label":"GOLDPRICE","t":2009.7828,"v":12.47}]},"mark":{"type":"text","font":"DejaVu Sans","fontSize":40,"fontWeight":"bold","color":"#cdb83f","stroke":"#7d6c1f","strokeWidth":0.6},
 "encoding":{"x":{"field":"t","type":"quantitative"},"y":{"field":"v","type":"quantitative"},"text":{"field":"label"}}},
{"data":{"values":[{"label":"®","t":2012.7085,"v":13.003}]},"mark":{"type":"text","font":"DejaVu Sans","fontSize":9,"align":"center","color":"#555555"},
 "encoding":{"x":{"field":"t","type":"quantitative"},"y":{"field":"v","type":"quantitative"},"text":{"field":"label"}}},
{"data":{"values":[{"label":"EST. 2002","t":2011.2233,"v":11.42}]},"mark":{"type":"text","font":"Liberation Serif","fontSize":11,"fontWeight":"bold","align":"center","color":"#444444"},
 "encoding":{"x":{"field":"t","type":"quantitative"},"y":{"field":"v","type":"quantitative"},"text":{"field":"label"}}},
{"data":{"values":[{"t":2009.7828,"t2":2010.7655,"v":11.371},{"t":2011.6924,"t2":2012.6639,"v":11.371}]},"mark":{"type":"rule","color":"#333333","strokeWidth":1.5},
 "encoding":{"x":{"field":"t","type":"quantitative"},"x2":{"field":"t2"},"y":{"field":"v","type":"quantitative"}}},
{"data":{"values":[{"t":2026.7901,"v":6.519}]},"mark":{"type":"point","shape":"M-1,0L-0.5,-0.866L0.5,-0.866L1,0L0.5,0.866L-0.5,0.866Z","size":841,"filled":false,"stroke":"#131722","strokeWidth":2.5},
 "encoding":{"x":{"field":"t","type":"quantitative"},"y":{"field":"v","type":"quantitative"}}},
{"data":{"values":[{"t":2026.7901,"v":6.519}]},"mark":{"type":"point","shape":"circle","size":81,"filled":false,"stroke":"#131722","strokeWidth":2.5},
 "encoding":{"x":{"field":"t","type":"quantitative"},"y":{"field":"v","type":"quantitative"}}},
{"data":{"values":[{"label":"1D","t":2009.8107,"v":3.475},{"label":"5D","t":2010.4752,"v":3.475},{"label":"1M","t":2011.1675,"v":3.475},{"label":"3M","t":2011.9045,"v":3.475},{"label":"6M","t":2012.6192,"v":3.475},{"label":"YTD","t":2013.3506,"v":3.475},{"label":"1Y","t":2014.2607,"v":3.475},{"label":"5Y","t":2014.9196,"v":3.475},{"label":"All","t":2015.5784,"v":3.475}]},"mark":{"type":"text","font":"Roboto","fontSize":28,"color":"#131722"},
 "encoding":{"x":{"field":"t","type":"quantitative"},"y":{"field":"v","type":"quantitative"},"text":{"field":"label"}}},
{"data":{"values":[{"label":"19:01:05 UTC-5","t":2027.2814,"v":3.475}]},"mark":{"type":"text","font":"Inter","fontSize":29,"align":"right","color":"#131722"},
 "encoding":{"x":{"field":"t","type":"quantitative"},"y":{"field":"v","type":"quantitative"},"text":{"field":"label"}}},
{"data":{"values":[{"label":"e chart by TradingView","t":2012.0385,"v":0.475}]},"mark":{"type":"text","font":"Open Sans","fontSize":23.2,"align":"right","color":"#4a7ba6","clip":true},
 "encoding":{"x":{"field":"t","type":"quantitative"},"y":{"field":"v","type":"quantitative"},"text":{"field":"label"}}}
]}
